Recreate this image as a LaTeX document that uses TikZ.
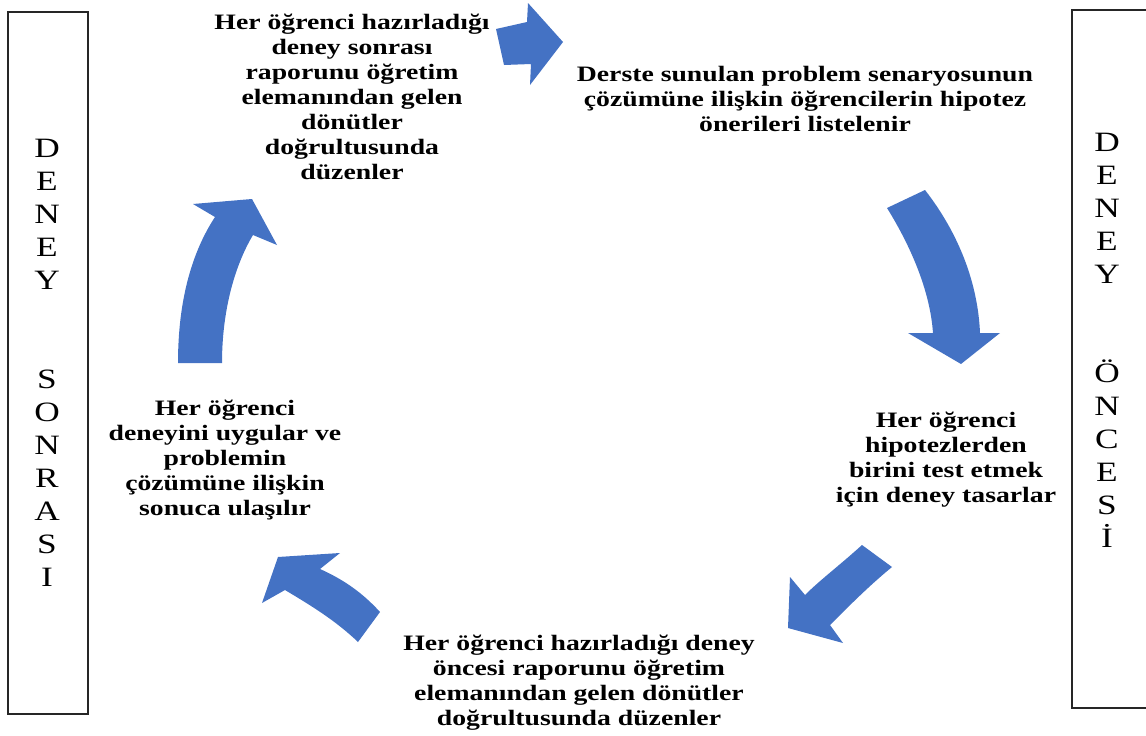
\documentclass[tikz,border=0pt]{standalone}
\usepackage{fontspec}
\setmainfont{Liberation Serif}[FakeStretch=1.26]
\definecolor{arrowblue}{HTML}{4472C4}
\tikzset{
  steptext/.style={font=\bfseries\fontsize{22}{25}\selectfont, align=center, inner sep=0pt},
  sidetext/.style={font=\fontsize{28}{33}\selectfont, align=center, inner sep=0pt},
  sidebox/.style={draw=black!85, line width=1.3pt},
  blockarrow/.style={fill=arrowblue, draw=none}
}
\begin{document}
\begin{tikzpicture}[x=1pt,y=-1pt]
		\useasboundingbox (0,0) rectangle (1146,736);
		% side boxes
		\draw [sidebox] (8,12) rectangle (88,714);
		\draw [sidebox] (1150,10)--(1072,10)--(1072,708)--(1150,708);
		\node [sidetext] (after) at (47,363) {D\\E\\N\\E\\Y\\[66pt]S\\O\\N\\R\\A\\S\\I};
		\node [sidetext] (before) at (1107,340) {D\\E\\N\\E\\Y\\[66pt]Ö\\N\\C\\E\\S\\İ};
		% steps
		\node [steptext] (report2) at (352,97) {Her öğrenci hazırladığı\\deney sonrası\\raporunu öğretim\\elemanından gelen\\dönütler\\doğrultusunda\\düzenler};
		\node [steptext] (problem) at (805,99) {Derste sunulan problem senaryosunun\\çözümüne ilişkin öğrencilerin hipotez\\önerileri listelenir};
		\node [steptext] (design) at (946,460) {Her öğrenci\\hipotezlerden\\birini test etmek\\için deney tasarlar};
		\node [steptext] (report1) at (579,683) {Her öğrenci hazırladığı deney\\öncesi raporunu öğretim\\elemanından gelen dönütler\\doğrultusunda düzenler};
		\node [steptext] (apply) at (225,460) {Her öğrenci\\deneyini uygular ve\\problemin\\çözümüne ilişkin\\sonuca ulaşılır};
		% block arrows
		\fill [blockarrow] (496,29)--(527,22)--(528,3)--(563,42)--(530,85)--(531,64)--(504,65)--cycle;
		\fill [blockarrow] (887,208) .. controls (910,245) and (930,290) .. (933,333)--(908,333)--(961,364)--(1000,333)--(980,333) .. controls (978,285) and (960,235) .. (925,190)--cycle;
		\fill [blockarrow] (862,545) .. controls (840,565) and (820,580) .. (805,595)--(790,577)--(788,628)--(843,643)--(830,625) .. controls (850,605) and (870,585) .. (892,567)--cycle;
		\fill [blockarrow] (380,612) .. controls (360,590) and (340,578) .. (320,569)--(340,553)--(278,557)--(262,603)--(285,590) .. controls (310,605) and (335,620) .. (358,642)--cycle;
		\fill [blockarrow] (178,363) .. controls (178,300) and (192,252) .. (215,217)--(193,204)--(252,199)--(277,245)--(253,235) .. controls (235,265) and (222,310) .. (222,363)--cycle;
\end{tikzpicture}
\end{document}
